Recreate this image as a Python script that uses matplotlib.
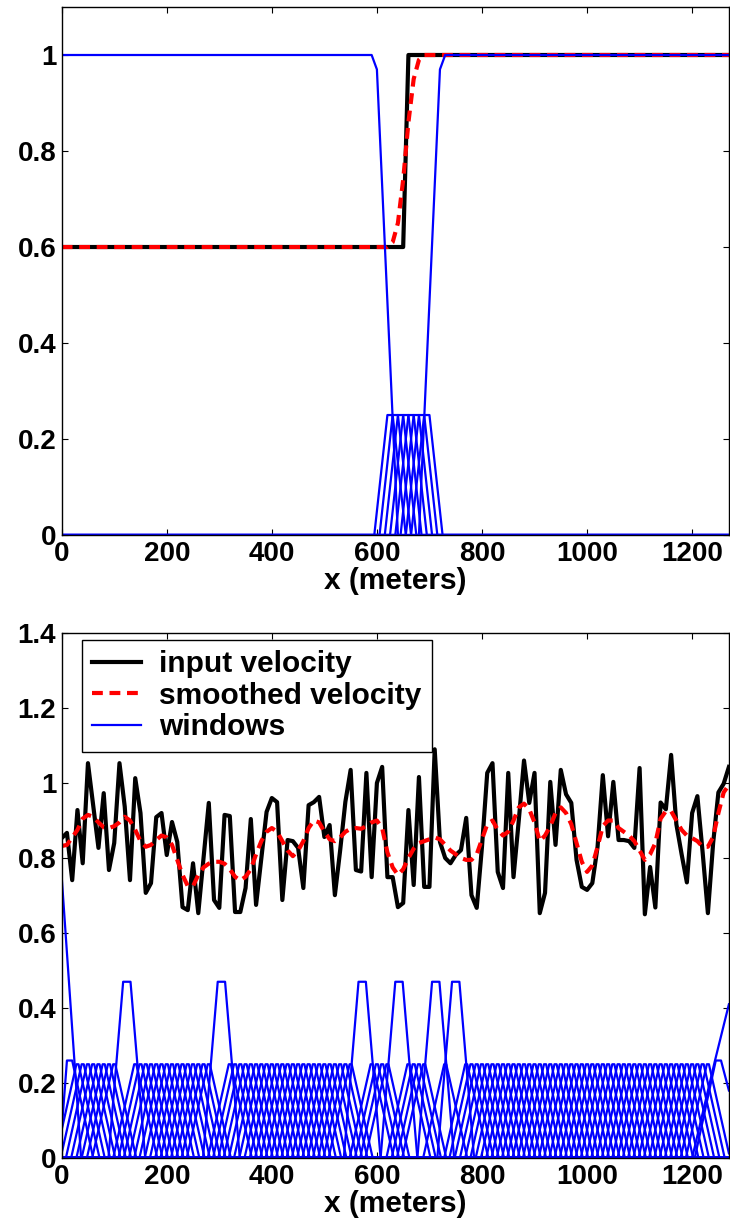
import numpy as np
import matplotlib
matplotlib.use("Agg")
import matplotlib.pyplot as plt
from matplotlib.ticker import FuncFormatter

plt.rcParams['font.family'] = ['Liberation Sans', 'DejaVu Sans']
plt.rcParams['font.weight'] = 'bold'
plt.rcParams['font.size'] = 20

# --- top panel: step model ---
top_in_x = [0, 650, 660, 1270]
top_in_v = [0.6, 0.6, 1.0, 1.0]
top_sm_x = [0, 620, 630, 640, 650, 660, 670, 680, 690, 1270]
top_sm_v = [0.6, 0.6, 0.61, 0.65, 0.74, 0.86, 0.95, 0.99, 1.0, 1.0]
top_win_left_x = [0, 590, 600, 640]
top_win_left_v = [1.0, 1.0, 0.97, 0.0]
top_win_right_x = [680, 720, 730, 1270]
top_win_right_v = [0.0, 0.97, 1.0, 1.0]
top_small_centers = [625, 635, 645, 655, 665, 675, 685, 695]
top_small_h = 0.25

# --- bottom panel: random model ---
x_grid = np.arange(0, 1280, 10)
input_vel = [
    0.853, 0.867, 0.741, 0.928, 0.786, 1.053, 0.94, 0.827, 0.973, 0.768,
    0.84, 1.053, 0.937, 0.741, 1.013, 0.92, 0.707, 0.733, 0.909, 0.92,
    0.808, 0.896, 0.843, 0.669, 0.661, 0.786, 0.653, 0.80, 0.947, 0.688,
    0.667, 0.915, 0.912, 0.656, 0.656, 0.72, 0.904, 0.675, 0.80, 0.923,
    0.96, 0.949, 0.688, 0.848, 0.845, 0.827, 0.72, 0.941, 0.949, 0.963,
    0.856, 0.888, 0.701, 0.82, 0.95, 1.035, 0.768, 0.764, 1.027, 0.749,
    1.0, 1.043, 0.749, 0.749, 0.669, 0.68, 0.928, 0.728, 1.016, 0.723,
    0.723, 1.09, 0.843, 0.8, 0.786, 0.808, 0.821, 0.907, 0.701, 0.667,
    0.83, 1.027, 1.053, 0.763, 0.72, 1.027, 0.749, 0.9, 1.06, 0.947,
    1.027, 0.653, 0.707, 1.003, 0.835, 1.035, 0.97, 0.947, 0.795, 0.723,
    0.715, 0.733, 0.83, 1.021, 0.858, 1.003, 0.848, 0.848, 0.845, 0.827,
    1.04, 0.65, 0.776, 0.668, 0.948, 0.93, 1.075, 0.89, 0.81, 0.735,
    0.92, 0.965, 0.815, 0.653, 0.84, 0.975, 0.998, 1.043]
smooth_vel = [
    0.832, 0.835, 0.855, 0.875, 0.905, 0.915, 0.91, 0.895, 0.882, 0.88,
    0.885, 0.895, 0.91, 0.9, 0.875, 0.845, 0.83, 0.835, 0.848, 0.86,
    0.855, 0.835, 0.795, 0.755, 0.725, 0.725, 0.755, 0.775, 0.785, 0.79,
    0.79, 0.785, 0.77, 0.75, 0.74, 0.75, 0.77, 0.81, 0.845, 0.87,
    0.88, 0.87, 0.845, 0.82, 0.805, 0.82, 0.845, 0.88, 0.9, 0.895,
    0.87, 0.85, 0.845, 0.855, 0.87, 0.878, 0.88, 0.878, 0.885, 0.895,
    0.9, 0.88, 0.815, 0.775, 0.755, 0.77, 0.8, 0.825, 0.84, 0.845,
    0.85, 0.855, 0.85, 0.835, 0.82, 0.81, 0.8, 0.795, 0.795, 0.81,
    0.85, 0.89, 0.9, 0.875, 0.86, 0.87, 0.9, 0.935, 0.945, 0.93,
    0.895, 0.845, 0.86, 0.885, 0.92, 0.935, 0.92, 0.89, 0.84, 0.79,
    0.763, 0.78, 0.83, 0.885, 0.9, 0.9, 0.88, 0.87, 0.86, 0.845,
    0.82, 0.795, 0.81, 0.84, 0.905, 0.925, 0.925, 0.9, 0.875, 0.86,
    0.853, 0.845, 0.83, 0.83, 0.856, 0.92, 0.975, 0.995]

tall_centers = [124, 304, 572, 642, 712, 750]
tall_h = 0.47
small_h = 0.25
small_centers = [c for c in range(30, 1240, 10)
                 if all(abs(c - t) > 15 for t in tall_centers)]
edge_windows = [
    ([0, 37], [0.75, 0.0]),
    ([0, 10, 20, 60], [0.075, 0.26, 0.26, 0.0]),
    ([1205, 1245, 1255, 1270], [0.0, 0.26, 0.26, 0.18]),
    ([1200, 1240, 1270], [0.0, 0.24, 0.41]),
]

XMAX = 1270
xf = np.linspace(0, XMAX, 1271)


def trap(c, h, flat, ramp):
    return [c - flat - ramp, c - flat, c + flat, c + flat + ramp], [0, h, h, 0]


def draw_win(ax, xs, vs, **kw):
    ax.plot(xf, np.interp(xf, xs, vs, left=0, right=0), color='#0000ff', lw=1.6, **kw)


def style(ax, ymax, yticks):
    ax.set_xlim(0, XMAX)
    ax.set_ylim(0, ymax)
    ax.set_xticks(range(0, 1201, 200))
    ax.set_yticks(yticks)
    ax.yaxis.set_major_formatter(FuncFormatter(lambda v, p: '%g' % round(v, 2)))
    ax.tick_params(direction='in', top=True, right=True, length=4, width=0.8, pad=4)
    ax.set_xlabel('x (meters)', fontweight='bold', fontsize=21.5, labelpad=0)
    for s in ax.spines.values():
        s.set_linewidth(1.0)


fig = plt.figure(figsize=(7.3, 12.28), dpi=100)
ax1 = fig.add_axes([0.0845, 0.5643, 0.914, 0.43])
ax2 = fig.add_axes([0.0845, 0.057, 0.914, 0.4275])

# top
ax1.plot(top_in_x, top_in_v, color='k', lw=3)
ax1.plot(top_sm_x, top_sm_v, color='#ff0000', lw=3, ls=(0, (2.6, 1.6)))
draw_win(ax1, top_win_left_x, top_win_left_v)
draw_win(ax1, top_win_right_x, top_win_right_v)
for c in top_small_centers:
    xs, vs = trap(c, top_small_h, 5, 25)
    draw_win(ax1, xs, vs)
style(ax1, 1.1, [0, 0.2, 0.4, 0.6, 0.8, 1.0])

# bottom
l1, = ax2.plot(x_grid, input_vel, color='k', lw=3, label='input velocity')
l2, = ax2.plot(x_grid, smooth_vel, color='#ff0000', lw=3, ls=(0, (2.6, 1.6)),
               label='smoothed velocity')
for xs, vs in edge_windows:
    draw_win(ax2, xs, vs)
for c in small_centers:
    xs, vs = trap(c, small_h, 2, 40)
    draw_win(ax2, xs, vs)
for c in tall_centers:
    xs, vs = trap(c, tall_h, 7, 28)
    draw_win(ax2, xs, vs)
l3, = ax2.plot([], [], color='#0000ff', lw=1.6, label='windows')
style(ax2, 1.4, [0, 0.2, 0.4, 0.6, 0.8, 1.0, 1.2, 1.4])

leg = ax2.legend(handles=[l1, l2, l3], loc='upper left', bbox_to_anchor=(0.03, 0.987),
                 borderaxespad=0, fancybox=False, framealpha=1, edgecolor='k',
                 handlelength=1.65, handletextpad=0.6, labelspacing=0.12,
                 borderpad=0.35, prop={'weight': 'bold', 'size': 21.5})
leg.get_frame().set_linewidth(1.0)

fig.savefig('out.png', dpi=100)
